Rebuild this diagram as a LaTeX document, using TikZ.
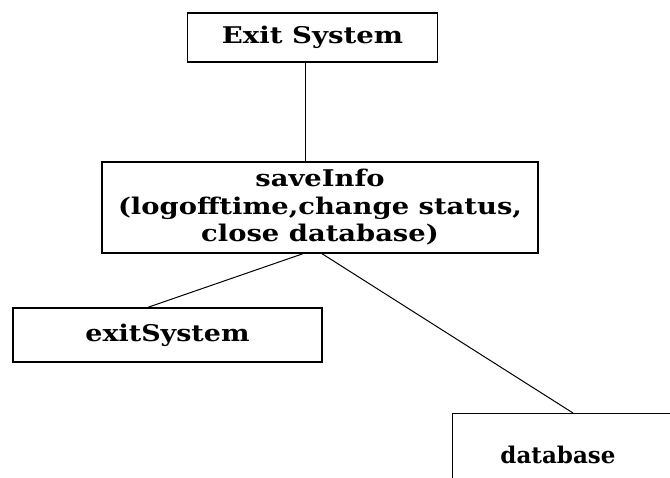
\documentclass[tikz,border=0pt]{standalone}
\usepackage{fontspec}
\setmainfont{DejaVu Serif}
\usetikzlibrary{calc}
% widen a line of text horizontally
\newcommand{\stretchtxt}[2]{\scalebox{#1}[1]{#2}}
\begin{document}
\begin{tikzpicture}[x=1pt,y=-1pt,
  box/.style={draw=black, line width=1.4pt, fill=white, inner sep=0pt, align=center,
              font=\bfseries\fontsize{23}{27.5}\selectfont},
  lbl/.style={inner sep=0pt, align=center, font=\bfseries\fontsize{23}{27}\selectfont},
  link/.style={draw=black, line width=1pt}]
  \clip (0,0) rectangle (670,478);
  \fill[white] (0,0) rectangle (670,478);

  % boxes
  \node[box, minimum width=250, minimum height=49] (exit) at (312.5,37.5)
       {\stretchtxt{1.2}{Exit System}};
  \node[box, minimum width=436, minimum height=91] (save) at (320,207.5)
       {\stretchtxt{1.19}{saveInfo}\\
        \stretchtxt{1.19}{(logofftime,change status,}\\
        \stretchtxt{1.19}{close database)}};
  \node[box, minimum width=309, minimum height=54] (exitsys) at (167.5,335)
       {\stretchtxt{1.17}{exitSystem}};
  \node[box, anchor=north west, minimum width=280, minimum height=140] (db) at (452,413) {};
  \node[lbl] (dblabel) at (558,455) {\stretchtxt{1.0}{database}};

  % connectors
  \draw[link] (exit.south -| 305,0) -- (save.north -| 305,0);
  \draw[link] ($(save.south)+(-17,0)$) -- ($(exitsys.north)+(-19.5,0)$);
  \draw[link] ($(save.south)+(2,0)$) -- ($(db.north west)+(121,0)$);
\end{tikzpicture}
\end{document}
